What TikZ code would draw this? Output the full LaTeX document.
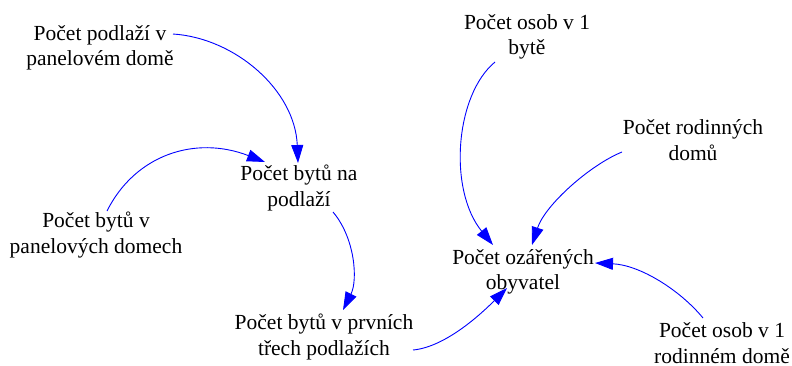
\documentclass[tikz,border=0pt]{standalone}
\usepackage{fontspec}
\setmainfont{Liberation Serif}
\usetikzlibrary{arrows.meta,calc}
\definecolor{linkblue}{RGB}{0,0,255}
\tikzset{
  var/.style={align=center,inner sep=0pt,font=\fontsize{21.5pt}{25.5pt}\selectfont},
  link/.style={draw=linkblue,line width=0.9pt,-{Triangle[length=18pt,width=12pt]}}
}
\begin{document}
\begin{tikzpicture}[x=1pt,y=-1pt]
\useasboundingbox (0,0) rectangle (792,365);
\node[var] (a) at (100,48) {Počet podlaží v\\panelovém domě};
\node[var] (b) at (299,188) {Počet bytů na\\podlaží};
\node[var] (c) at (96,235) {Počet bytů v\\panelových domech};
\node[var] (d) at (324,337) {Počet bytů v prvních\\třech podlažích};
\node[var] (f) at (527,37) {Počet osob v 1\\bytě};
\node[var] (g) at (693,140) {Počet rodinných\\domů};
\node[var] (e) at (523,272) {Počet ozářených\\obyvatel};
\node[var] (h) at (722,343) {Počet osob v 1\\rodinném domě};
% A
\draw[link] ($(a)+(73,-14)$) .. controls +(62,4) and +(-3,-73) .. ($(b)+(-1,-25)$);
% B
\draw[link] ($(c)+(11,-24)$) .. controls +(28,-56) and +(-70,-27) .. ($(b)+(-34,-26)$);
% C
\draw[link] ($(b)+(34,24)$) .. controls +(22,26) and +(15,-30) .. ($(d)+(19,-27)$);
% D
\draw[link] ($(d)+(89,13)$) .. controls +(32,-3) and +(-27,27) .. ($(e)+(-16,16)$);
% E
\draw[link] ($(f)+(-32,25)$) .. controls +(-40,33) and +(-45,-55) .. ($(e)+(-30,-27)$);
% F
\draw[link] ($(g)+(-71,12)$) .. controls +(-32,13) and +(13,-40) .. ($(e)+(9,-27)$);
% G
\draw[link] ($(h)+(-19,-25)$) .. controls +(-23,-28) and +(45,2) .. ($(e)+(72,-9)$);
\end{tikzpicture}
\end{document}
